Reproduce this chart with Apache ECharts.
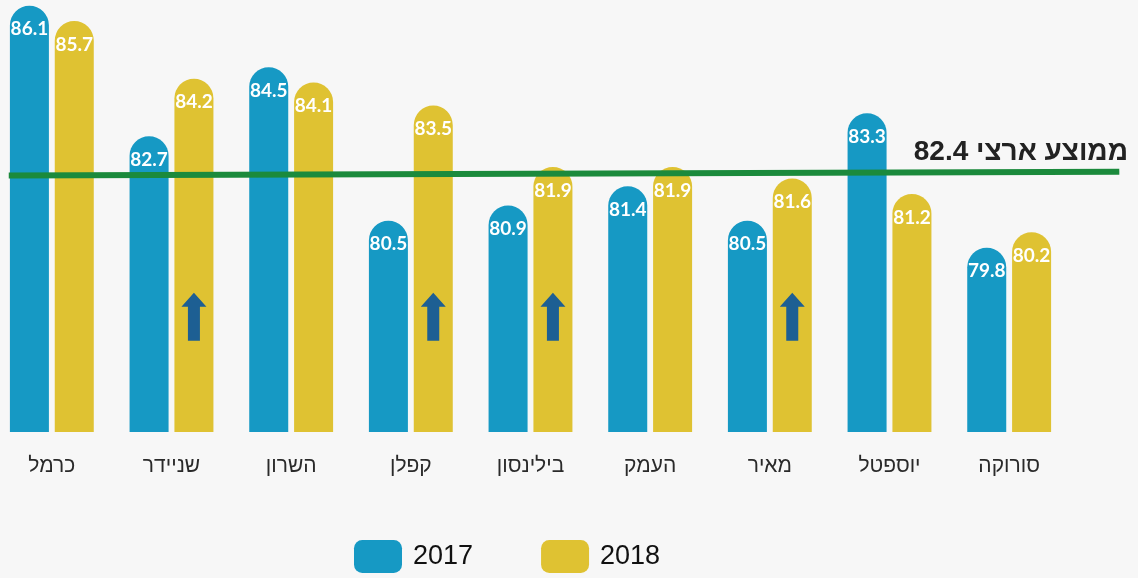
<!DOCTYPE html>
<html>
<head>
<meta charset="utf-8">
<script src="https://cdn.jsdelivr.net/npm/echarts@6/dist/echarts.min.js"></script>
<style>
  html, body { margin: 0; padding: 0; background: #f7f7f7; }
  #chart { width: 1138px; height: 578px; }
</style>
</head>
<body>
<div id="chart"></div>
<script>
// hospitals, left to right
var categories = ["כרמל", "שניידר", "השרון", "קפלן", "בילינסון", "העמק", "מאיר", "יוספטל", "סורוקה"];
var values2017 = [86.1, 82.7, 84.5, 80.5, 80.9, 81.4, 80.5, 83.3, 79.8];
var values2018 = [85.7, 84.2, 84.1, 83.5, 81.9, 81.9, 81.6, 81.2, 80.2];
// up arrows drawn inside these 2018 bars
var arrowIdx = [1, 3, 4, 6];
var arrowLevel = 78;
// national average line, as drawn (x in category slots)
var avgLine = [[0.14, 81.68], [9.42, 81.78]];
var avgText = "\u202Bממוצע ארצי 82.4\u202C";

var chart = echarts.init(document.getElementById("chart"));

var barLabel = {
  show: true,
  position: "insideTop",
  distance: 14,
  color: "#fff",
  fontFamily: "Lato",
  fontWeight: "bold",
  fontSize: 19
};

var option = {
  backgroundColor: "#f7f7f7",
  animation: false,
  grid: [
    { left: -8, top: 0, width: 1077, height: 432, outerBoundsMode: "none", containLabel: false },
    // same slots, extended past the last category for the average line
    { left: -8, top: 0, width: 1196.7, height: 432, outerBoundsMode: "none", containLabel: false }
  ],
  legend: {
    left: 354,
    top: 540,
    padding: 0,
    itemWidth: 48,
    itemHeight: 33,
    itemGap: 68,
    icon: "roundRect",
    textStyle: { fontFamily: "Liberation Sans", fontSize: 27, color: "#111", padding: [0, 0, 0, 6] },
    data: ["2017", "2018"]
  },
  xAxis: [
    {
      type: "category",
      gridIndex: 0,
      data: categories,
      axisLine: { show: false },
      axisTick: { show: false },
      axisLabel: { margin: 24, fontFamily: "Liberation Sans", fontSize: 21, color: "#2a2a2a" }
    },
    { type: "value", gridIndex: 1, min: 0, max: 10, show: false }
  ],
  yAxis: [
    { type: "value", gridIndex: 0, min: 75, max: 86.25, show: false },
    { type: "value", gridIndex: 1, min: 75, max: 86.25, show: false }
  ],
  series: [
    {
      name: "2017",
      type: "bar",
      data: values2017,
      barWidth: 39,
      barGap: "15%",
      itemStyle: { color: "#1699c4", borderRadius: [19.5, 19.5, 0, 0] },
      label: barLabel
    },
    {
      name: "2018",
      type: "bar",
      data: values2018,
      barWidth: 39,
      itemStyle: { color: "#dfc232", borderRadius: [19.5, 19.5, 0, 0] },
      label: barLabel,
      markPoint: {
        symbol: "path://M12.5 0 L25 14 L18.5 14 L18.5 48 L6.5 48 L6.5 14 L0 14 Z",
        symbolSize: [25, 48],
        itemStyle: { color: "#1d5f93" },
        label: { show: false },
        data: arrowIdx.map(function (i) { return { coord: [i, arrowLevel] }; })
      }
    },
    {
      name: "avg",
      type: "line",
      xAxisIndex: 1,
      yAxisIndex: 1,
      data: avgLine,
      symbol: "none",
      clip: false,
      z: 5,
      lineStyle: { color: "#1b8a3c", width: 6 }
    }
  ],
  graphic: [
    {
      type: "text",
      right: 10,
      top: 138,
      style: {
        text: avgText,
        fontFamily: "Liberation Sans",
        fontWeight: "bold",
        fontSize: 28,
        fill: "#222"
      }
    }
  ]
};

chart.setOption(option);
</script>
</body>
</html>
